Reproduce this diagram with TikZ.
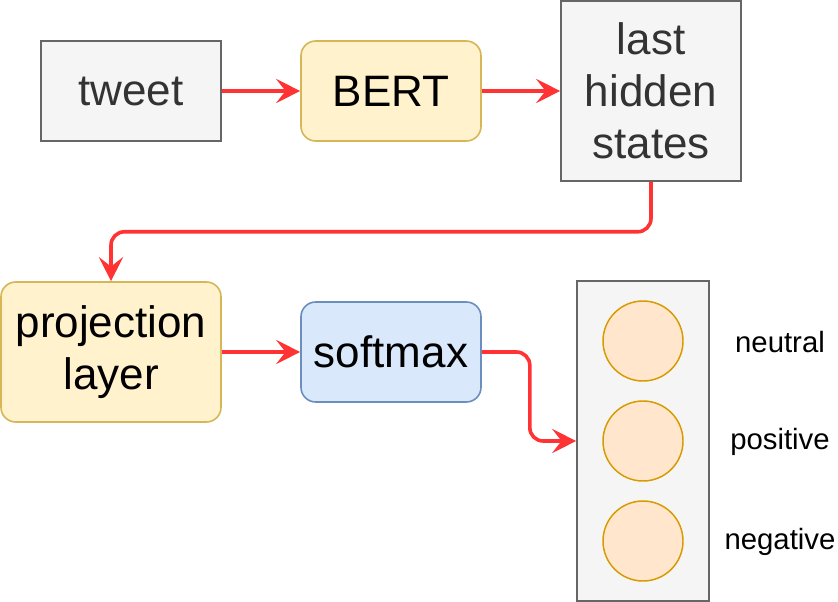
\documentclass[tikz,border=0pt]{standalone}
\usepackage{fontspec}
\setmainfont{Liberation Sans}
\usepackage{tikz}
\usetikzlibrary{arrows.meta,positioning}

\definecolor{grayfill}{HTML}{F5F5F5}
\definecolor{grayline}{HTML}{666666}
\definecolor{graytext}{HTML}{333333}
\definecolor{yellowfill}{HTML}{FFF2CC}
\definecolor{yellowline}{HTML}{D6B656}
\definecolor{bluefill}{HTML}{DAE8FC}
\definecolor{blueline}{HTML}{6C8EBF}
\definecolor{orangefill}{HTML}{FFE6CC}
\definecolor{orangeline}{HTML}{D79B00}
\definecolor{arrowred}{HTML}{FF3333}

\begin{document}
\begin{tikzpicture}[ x=0.75pt , y=-0.75pt , on grid ,
  box/.style={ draw , line width=1.2pt , inner sep=0pt , align=center ,
    font=\fontsize{33}{39}\selectfont },
  graybox/.style={ box , fill=grayfill , draw=grayline , text=graytext },
  yellowbox/.style={ box , fill=yellowfill , draw=yellowline , rounded corners=11pt },
  bluebox/.style={ box , fill=bluefill , draw=blueline , rounded corners=11pt },
  unit/.style={ circle , draw=orangeline , fill=orangefill , line width=1.1pt ,
    minimum size=60pt , inner sep=0pt },
  classlabel/.style={ font=\fontsize{22}{26}\selectfont },
  arrow/.style={ draw=arrowred , line width=2.7pt , rounded corners=10pt ,
    -{Stealth[length=18pt,width=18pt,inset=7pt]} } ]
\useasboundingbox (0,0) rectangle (838,602);
\node [ graybox , minimum width=135pt , minimum height=75pt ] (tweet) at (131,91) {tweet};
\node [ yellowbox , minimum width=135pt , minimum height=75pt ] (bert) [ right = 195pt of tweet ] {BERT};
\node [ graybox , minimum width=135pt , minimum height=135pt ] (hidden) [ right = 195pt of bert ] {last\\hidden\\states};
\node [ yellowbox , minimum width=165pt , minimum height=105pt ] (proj) at (111,352) {projection\\layer};
\node [ bluebox , minimum width=135pt , minimum height=75pt ] (softmax) [ right = 210pt of proj ] {softmax};
\node [ graybox , minimum width=99pt , minimum height=240pt ] (output) at (643,441) {};
\node [ unit ] (u_1) at (643,341) {};
\node [ unit ] (u_2) at (643,441) {};
\node [ unit ] (u_3) at (643,541) {};
\node [ classlabel ] (l_1) at (780,342) {neutral};
\node [ classlabel ] (l_2) at (780,442) {positive};
\node [ classlabel ] (l_3) at (780,542) {negative};
\path [ arrow ] (tweet) -- (bert);
\path [ arrow ] (bert) -- (hidden);
\path [ arrow ] (hidden.south) -- ++(0,50) -| (proj.north);
\path [ arrow ] (proj) -- (softmax);
\path [ arrow ] (softmax.east) -- ++(48,0) |- (output.west);
\end{tikzpicture}
\end{document}
